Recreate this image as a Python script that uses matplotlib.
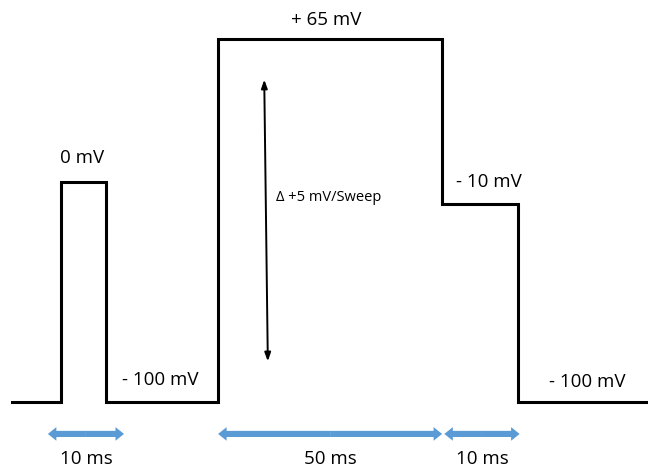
import matplotlib.pyplot as plt

# voltage protocol: step times (ms, schematic) and holding levels (mV)
t_edges = [0, 11, 21, 46, 96, 113, 142]
v_levels = [-100, 0, -100, 65, -10, -100]

# duration markers under the trace
span_start = [8, 46, 96.5]
span_end = [25, 96, 113.3]
span_text = ["10 ms", "50 ms", "10 ms"]

# build the step trace from edges and levels
xs, ys = [], []
for i, v in enumerate(v_levels):
    xs += [t_edges[i], t_edges[i + 1]]
    ys += [v, v]

plt.rcParams['font.family'] = ['Open Sans', 'DejaVu Sans']

fig = plt.figure(figsize=(6.48, 4.72), dpi=100)
ax = fig.add_axes([0, 0, 1, 1])
ax.plot(xs, ys, color="black", lw=2.2, solid_joinstyle="miter")

# sweep arrow inside the test pulse
ax.annotate("", xy=(56.3, 46.5), xytext=(57.1, -81.5),
            arrowprops=dict(arrowstyle="<|-|>,head_length=0.5,head_width=0.18",
                            color="black", lw=1.4, shrinkA=0, shrinkB=0))
ax.text(59, -7, "Δ +5 mV/Sweep", fontsize=10.5, va="center", ha="left")

# level labels
fs = 13.5
ax.text(15.7, 10.9, "0 mV", fontsize=fs, ha="center", va="center")
ax.text(33, -90, "- 100 mV", fontsize=fs, ha="center", va="center")
ax.text(70.2, 73.5, "+ 65 mV", fontsize=fs, ha="center", va="center")
ax.text(106.5, 0, "- 10 mV", fontsize=fs, ha="center", va="center")
ax.text(128.3, -91, "- 100 mV", fontsize=fs, ha="center", va="center")

# blue double arrows with durations
blue = "#5B9BD5"
y_arr = -114.5
for a, b, lab in zip(span_start, span_end, span_text):
    mid = (a + b) / 2
    for end in (a, b):
        ax.arrow(mid, y_arr, end - mid, 0, width=2.8, head_width=6.2,
                 head_length=1.9, length_includes_head=True,
                 color=blue, lw=0)
    ax.text(mid, y_arr - 11.5, lab, fontsize=fs, ha="center", va="center")

ax.set_xlim(-2.68, 141.96)
ax.set_ylim(-131.8, 82.7)
ax.axis("off")

fig.savefig("out.png", dpi=100)
